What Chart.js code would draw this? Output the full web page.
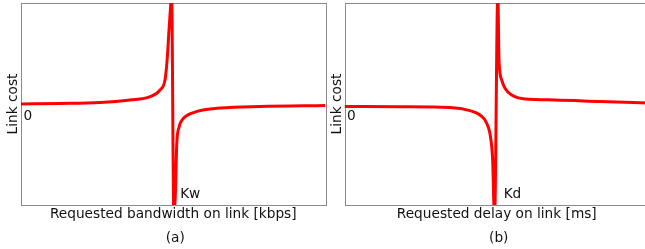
<!DOCTYPE html>
<html>
<head>
<meta charset="utf-8">
<script src="https://cdn.jsdelivr.net/npm/chart.js@4/dist/chart.umd.min.js"></script>
<style>
    html, body { margin: 0; padding: 0; background: #fff; width: 645px; height: 249px; overflow: hidden; }
    .panel { position: absolute; top: 0; }
    #panelA { left: 0; }
    #panelB { left: 326px; }
</style>
</head>
<body>
<canvas id="panelA" class="panel" width="330" height="249"></canvas>
<canvas id="panelB" class="panel" width="330" height="249"></canvas>
<script>
// Panel (a): link cost vs requested bandwidth (x in % of the axis, y in half-heights)
const bandwidthX = [0, 12.8, 25.9, 35.8, 42.4, 45.7, 47.3, 48.0, 48.6, 49.2, 49.45,
                    50.2, 50.74, 51.13, 51.89, 52.87, 54.19, 56.16, 59.77, 65.35, 78.49, 100];
const bandwidthCost = [0, 0.005, 0.015, 0.04, 0.072, 0.14, 0.24, 0.44, 0.73, 1.0, 1.1,
                       -1.1, -0.85, -0.41, -0.23, -0.16, -0.12, -0.09, -0.06, -0.04, -0.025, -0.015];

// Panel (b): link cost vs requested delay
const delayX = [0, 18.2, 34.6, 41.2, 44.5, 46.7, 48.1, 48.7, 49.0, 49.3,
                50.35, 50.74, 51.63, 52.71, 54.91, 59.28, 69.13, 83.9, 100];
const delayCost = [-0.025, -0.027, -0.035, -0.066, -0.109, -0.19, -0.356, -0.587, -0.95, -1.1,
                   1.1, 0.436, 0.238, 0.155, 0.089, 0.05, 0.04, 0.025, 0.01];

// Axis texts and annotations
const xTitles = ['Requested bandwidth on link [kbps]', 'Requested delay on link [ms]'];
const yTitle = 'Link cost';
const zeroLabel = '0';
const kneeLabels = ['Kw', 'Kd'];
const kneeX = [49.8, 49.8];
const captions = ['(a)', '(b)'];

const FONT = '13.7px "DejaVu Sans", sans-serif';

/**
 * Box + texts around the plot area
 */
function makeDecorPlugin(idx) {
    return {
        id: 'decor' + idx,
        beforeDatasetsDraw(chart) {
            const { ctx, chartArea } = chart;
            ctx.save();
            ctx.strokeStyle = '#8a8a8a';
            ctx.lineWidth = 1;
            ctx.strokeRect(Math.round(chartArea.left) + 0.5, Math.round(chartArea.top) + 0.5,
                Math.round(chartArea.right - chartArea.left), Math.round(chartArea.bottom - chartArea.top));
            ctx.restore();
        },
        afterDraw(chart) {
            const { ctx, chartArea } = chart;
            const xs = chart.scales.x;
            const ys = chart.scales.y;
            const midX = (chartArea.left + chartArea.right) / 2;
            const y0 = ys.getPixelForValue(0);

            ctx.save();
            ctx.fillStyle = '#111';
            ctx.font = FONT;

            // "0" marker just under the level line
            ctx.textAlign = 'left';
            ctx.textBaseline = 'alphabetic';
            ctx.fillText(zeroLabel, chartArea.left + 2.5, y0 + 16);

            // knee label next to the spike
            ctx.fillText(kneeLabels[idx], xs.getPixelForValue(kneeX[idx]) + 7.5, chartArea.bottom - 7);

            // x title + caption
            ctx.textAlign = 'center';
            ctx.fillText(xTitles[idx], midX, chartArea.bottom + 13);
            ctx.fillText(captions[idx], midX + 2, chartArea.bottom + 37);

            // rotated y title
            ctx.translate(chartArea.left - 4, (chartArea.top + chartArea.bottom) / 2);
            ctx.rotate(-Math.PI / 2);
            ctx.fillText(yTitle, 0, 0);
            ctx.restore();
        }
    };
}

function buildPanel(canvasId, idx, xs, ys, padding) {
    const points = xs.map((x, i) => ({ x: x, y: ys[i] }));
    return new Chart(document.getElementById(canvasId), {
        type: 'scatter',
        data: {
            datasets: [{
                data: points,
                showLine: true,
                borderColor: '#ff0000',
                borderWidth: 3,
                pointRadius: 0,
                cubicInterpolationMode: 'monotone'
            }]
        },
        options: {
            responsive: false,
            animation: false,
            devicePixelRatio: 1,
            layout: { padding: padding },
            plugins: { legend: { display: false }, tooltip: { enabled: false } },
            scales: {
                x: { type: 'linear', min: 0, max: 100, display: false },
                y: { type: 'linear', min: -1, max: 1, display: false }
            }
        },
        plugins: [makeDecorPlugin(idx)]
    });
}

buildPanel('panelA', 0, bandwidthX, bandwidthCost, { left: 21, right: 4.5, top: 3, bottom: 44 });
buildPanel('panelB', 1, delayX, delayCost, { left: 18.5, right: 7, top: 3, bottom: 44 });
</script>
</body>
</html>
